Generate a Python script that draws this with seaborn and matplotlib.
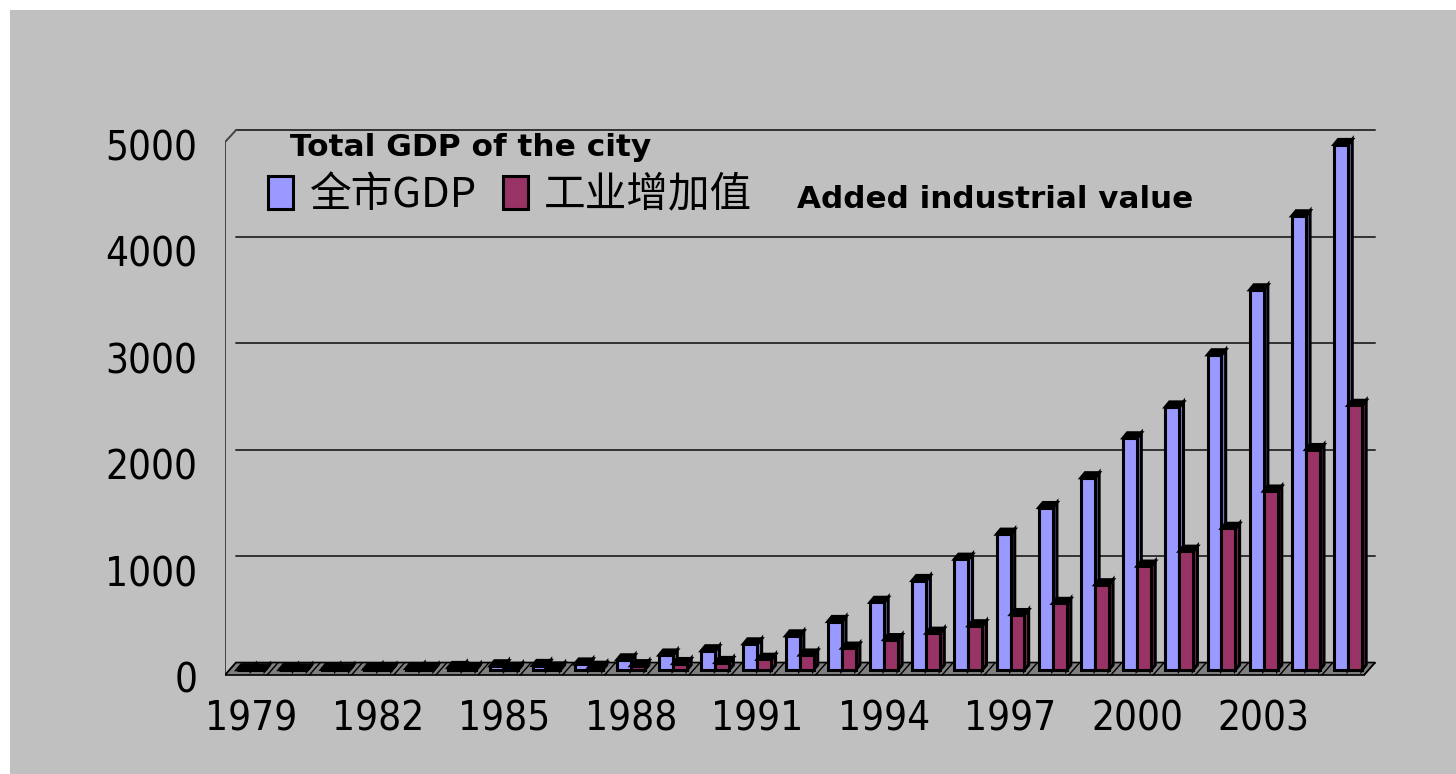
import matplotlib
matplotlib.use("Agg")
import matplotlib.pyplot as plt
import matplotlib.transforms as mtransforms
from matplotlib.patches import Polygon
import numpy as np
import pandas as pd
import seaborn as sns

# ---------------------------------------------------------------------------
# Data
# ---------------------------------------------------------------------------
years = list(range(1979, 2006))
gdp = [2, 2.7, 5, 8.3, 13, 23, 39, 42, 56, 95, 140, 180, 245, 320, 455, 635,
       840, 1040, 1275, 1525, 1805, 2180, 2470, 2960, 3570, 4265, 4935]
industry = [0.7, 0.8, 1.5, 2.5, 4.5, 9, 15, 18, 25, 40, 60, 70, 100, 140, 205,
            285, 345, 415, 520, 625, 800, 975, 1115, 1330, 1680, 2070, 2485]
series_names = ["全市GDP", "工业增加值"]
y_ticks = [0, 1000, 2000, 3000, 4000, 5000]
x_tick_years = years[::3]

BLUE = "#9999FF"
RED = "#993366"
BG = "#C0C0C0"
LEG_FONT = ["Noto Sans CJK SC", "DejaVu Sans"]

sns.set_theme(style="white")
plt.rcParams["font.family"] = ["Liberation Sans", "Noto Sans CJK SC", "DejaVu Sans"]
plt.rcParams["text.color"] = "black"
plt.rcParams["xtick.color"] = "black"
plt.rcParams["ytick.color"] = "black"

W, H = 1456, 774
fig = plt.figure(figsize=(W / 100, H / 100), dpi=100, facecolor="white")

# gray chart area (white strip on top and left)
bg = fig.add_axes([10 / W, 0, 1 - 10 / W, 1 - 10 / H], zorder=-5)
bg.set_facecolor(BG)
bg.set_xticks([])
bg.set_yticks([])
for s in bg.spines.values():
    s.set_visible(False)

# axes placed so that one category = ~42 px
ax = fig.add_axes([225 / W, (H - 678.5) / H, 1161 / W, 567.5 / H])
ax.set_facecolor("none")

df = pd.DataFrame({
    "year": [str(y) for y in years] * 2,
    "value": gdp + industry,
    "series": [series_names[0]] * len(years) + [series_names[1]] * len(years),
})

sns.barplot(data=df, x="year", y="value", hue="series", palette=[BLUE, RED],
            width=0.66, saturation=1, edgecolor="black", linewidth=2.2,
            legend=False, ax=ax)

# --- fake 3D: depth offsets in data units
dx, dy = 0.1, 48
floor_front, floor_back = -47, 70
shift = 0.26
x_left, x_right = -0.62, 26.38


def darker(c, f):
    r, g, b = matplotlib.colors.to_rgb(c)
    return (r * f, g * f, b * f)


for i, (cont, col) in enumerate(zip(ax.containers, [BLUE, RED])):
    base_z = 3 + i
    for bar in cont:
        bar.set_zorder(base_z)
        x0, w, h = bar.get_x(), bar.get_width(), bar.get_height()
        side = Polygon([(x0 + w, 0), (x0 + w + dx, dy), (x0 + w + dx, h + dy), (x0 + w, h)],
                       closed=True, facecolor=darker(col, 0.8), edgecolor="black",
                       linewidth=2.2, zorder=base_z - 0.1)
        top = Polygon([(x0, h), (x0 + w, h), (x0 + w + dx, h + dy), (x0 + dx, h + dy)],
                      closed=True, facecolor="black", edgecolor="black",
                      linewidth=2.2, zorder=base_z + 0.1)
        ax.add_patch(side)
        ax.add_patch(top)

# floor
ax.add_patch(Polygon([(x_left, floor_front), (x_right, floor_front),
                      (x_right + shift, floor_back), (x_left + shift, floor_back)],
                     closed=True, facecolor="#808080", edgecolor="black",
                     linewidth=1.2, zorder=1.5))
for k in range(len(years) + 1):
    ax.plot([x_left + k, x_left + k + shift], [floor_front, floor_back],
            color="black", lw=1, zorder=1.6)

# back-wall gridlines and left wall
for v in y_ticks:
    ax.plot([x_left + shift, x_right + shift], [v + 70, v + 70],
            color="#333333", lw=1.4, zorder=1)
ax.plot([x_left, x_left, x_left + shift], [floor_front, 4958, 5070],
        color="#444444", lw=1.4, zorder=1)

ax.set_xlim(-0.62, 26.9)
ax.set_ylim(-80, 5250)
for s in ax.spines.values():
    s.set_visible(False)
ax.grid(False)

num_font = dict(family="DejaVu Sans", fontstretch="condensed", fontsize=29)
ax.set_yticks(y_ticks)
ax.set_yticklabels([str(v) for v in y_ticks], **num_font)
ax.set_xticks([years.index(y) for y in x_tick_years])
ax.set_xticklabels([str(y) for y in x_tick_years], **num_font)
ax.tick_params(axis="y", length=0, pad=20)
ax.tick_params(axis="x", length=0, pad=15)
off = mtransforms.ScaledTranslation(0, -0.07, fig.dpi_scale_trans)
for lab in ax.get_yticklabels():
    lab.set_transform(lab.get_transform() + off)
ax.set_xlabel(None)
ax.set_ylabel(None)

# legend from the bar handles
handles = [ax.containers[0][0], ax.containers[1][0]]
leg = ax.legend(handles, series_names, ncol=2, frameon=False,
                loc="center left", bbox_to_anchor=(268 / W, 1 - 195 / H),
                bbox_transform=fig.transFigure, borderpad=0, borderaxespad=0,
                handlelength=0.6, handleheight=0.84, handletextpad=0.4,
                columnspacing=0.62, prop={"family": LEG_FONT, "size": 30})
leg.set_zorder(10)

fig.text(290 / W, 1 - 148 / H, "Total GDP of the city", fontsize=22.5,
         fontweight="bold", va="center", ha="left", family="DejaVu Sans")
fig.text(797 / W, 1 - 200 / H, "Added industrial value", fontsize=22.3,
         fontweight="bold", va="center", ha="left", family="DejaVu Sans")

fig.savefig("out.png", dpi=100, facecolor="white")
